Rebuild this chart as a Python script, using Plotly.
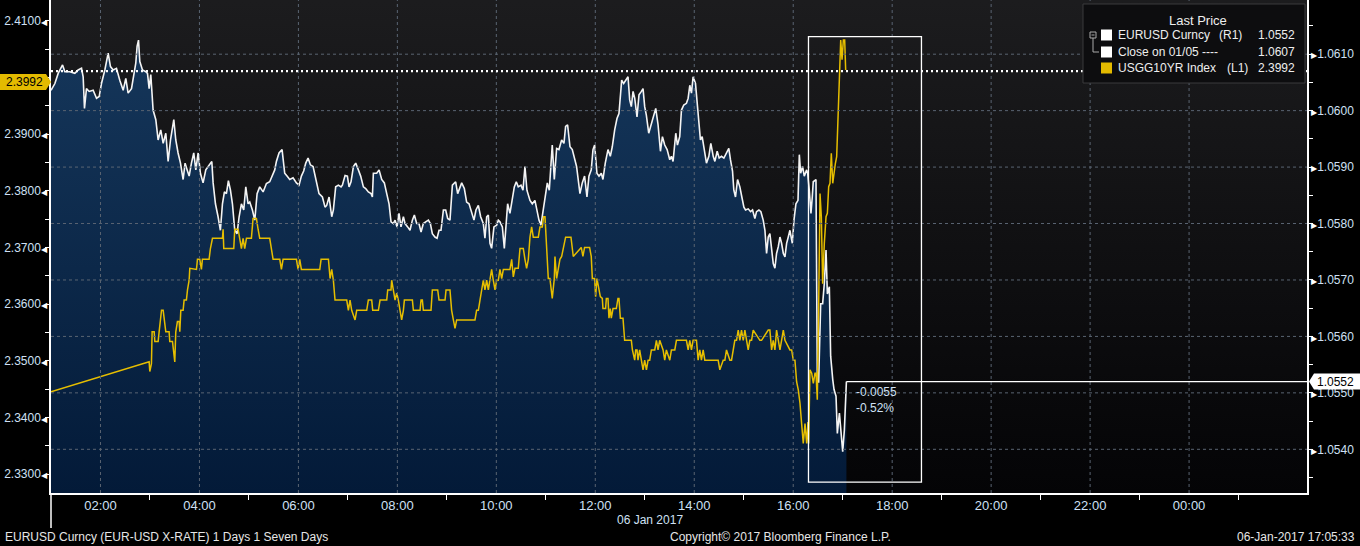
import plotly.graph_objects as go
import pandas as pd

# ---------------- data ----------------
# minutes after 00:00 on 06 Jan 2017
eur_minutes = [60.0, 64.7, 68.7, 74.0, 76.8, 82.8, 88.9, 92.9, 97.0, 99.0, 100.6, 103.0, 106.3, 111.1, 115.2, 118.4,
               121.2, 125.3, 129.3, 132.1, 135.4, 139.4, 143.4, 147.5, 150.7, 153.5, 157.6, 160.4, 162.8, 164.4, 166.1,
               167.7, 170.9, 175.0, 177.0, 179.0, 181.0, 183.8, 187.1, 189.9, 193.1, 196.0, 199.2, 202.0, 204.9, 208.9,
               211.3, 214.1, 217.0, 220.2, 222.6, 225.1, 227.5, 230.3, 233.1, 235.6, 238.4, 241.2, 244.4, 247.7, 250.5,
               252.5, 255.0, 256.6, 259.4, 262.6, 265.4, 267.9, 270.3, 272.7, 275.1, 277.6, 280.0, 282.8, 285.6, 288.1,
               290.9, 293.7, 296.2, 299.0, 301.0, 304.2, 307.1, 309.9, 313.1, 317.2, 321.2, 325.2, 328.5, 331.3, 333.3,
               336.5, 340.2, 343.4, 346.2, 349.5, 353.5, 357.6, 360.8, 363.6, 366.4, 368.9, 371.7, 374.5, 377.8, 381.8,
               385.0, 389.1, 392.3, 394.3, 397.2, 400.4, 402.4, 405.2, 408.5, 411.7, 413.3, 416.6, 419.4, 421.4, 423.8,
               426.7, 429.5, 432.7, 435.5, 438.8, 441.6, 444.8, 448.1, 449.7, 450.9, 454.9, 457.8, 461.0, 464.2, 467.1,
               469.9, 472.3, 475.1, 477.2, 479.6, 482.0, 484.4, 487.3, 489.3, 492.5, 495.3, 498.2, 500.6, 503.4, 506.2,
               508.7, 511.5, 514.3, 517.6, 520.0, 522.4, 525.6, 528.1, 530.5, 532.9, 535.8, 538.6, 541.0, 543.8, 546.7,
               549.1, 550.7, 553.1, 555.9, 558.0, 561.2, 564.0, 566.9, 570.1, 572.9, 575.3, 578.2, 581.0, 584.2, 586.2,
               588.3, 590.3, 592.3, 594.3, 597.1, 600.4, 602.4, 604.4, 607.3, 609.7, 611.3, 613.7, 616.5, 619.4, 621.8,
               624.2, 626.6, 629.9, 632.3, 634.7, 637.1, 640.8, 643.6, 646.8, 649.3, 651.7, 654.1, 656.9, 659.0, 661.8,
               664.2, 666.2, 667.8, 670.3, 673.1, 675.9, 679.2, 682.0, 684.0, 686.4, 689.3, 692.1, 694.5, 697.3, 701.4,
               704.2, 707.0, 709.9, 712.3, 715.1, 717.2, 719.2, 722.0, 724.5, 727.3, 729.3, 732.1, 735.4, 738.2, 740.6,
               743.5, 746.3, 748.7, 750.4, 752.0, 754.4, 756.8, 759.7, 761.7, 763.7, 765.8, 767.8, 770.6, 773.0, 775.9,
               777.9, 779.9, 781.9, 784.8, 787.2, 790.0, 793.3, 796.1, 799.0, 801.4, 804.2, 807.1, 810.3, 812.3, 814.3,
               817.6, 819.6, 822.4, 824.5, 827.3, 830.5, 832.6, 834.6, 836.6, 838.6, 841.5, 843.5, 845.5, 847.5, 849.6,
               851.6, 854.8, 857.7, 860.1, 863.0, 865.0, 867.8, 870.2, 873.0, 875.9, 879.1, 881.9, 883.9, 886.4, 888.0,
               890.0, 892.5, 895.3, 897.7, 900.2, 902.2, 905.4, 908.3, 910.7, 913.5, 915.5, 918.4, 920.8, 923.6, 925.7,
               927.7, 929.7, 931.7, 933.8, 935.8, 937.8, 939.8, 941.9, 943.9, 945.9, 948.0, 950.0, 952.0, 954.0, 956.0,
               958.9, 960.9, 963.3, 965.8, 967.4, 969.0, 971.4, 973.4, 976.3, 977.5, 979.5, 981.5, 983.1, 984.3, 987.6,
               989.2, 990.8, 993.3, 995.7, 997.7, 999.8, 1001.4, 1003.8, 1005.4, 1007.9, 1009.5, 1011.9, 1013.5, 1016.0,
               1018.0, 1020.0, 1022.0, 1024.5]
eur_values = [1.06036, 1.06048, 1.06066, 1.06081, 1.06069, 1.06069, 1.06066, 1.06072, 1.06075, 1.06060, 1.06004, 1.06039,
              1.06034, 1.06036, 1.06022, 1.06025, 1.06048, 1.06072, 1.06102, 1.06078, 1.06072, 1.06075, 1.06054, 1.06036,
              1.06057, 1.06031, 1.06039, 1.06066, 1.06084, 1.06114, 1.06125, 1.06087, 1.06072, 1.06069, 1.06066, 1.06039,
              1.06064, 1.06001, 1.05984, 1.05948, 1.05966, 1.05942, 1.05960, 1.05910, 1.05948, 1.05984, 1.05948, 1.05925,
              1.05907, 1.05878, 1.05907, 1.05895, 1.05884, 1.05907, 1.05925, 1.05895, 1.05925, 1.05889, 1.05872, 1.05895,
              1.05901, 1.05907, 1.05910, 1.05872, 1.05835, 1.05812, 1.05788, 1.05835, 1.05856, 1.05853, 1.05876, 1.05859,
              1.05835, 1.05788, 1.05782, 1.05812, 1.05835, 1.05824, 1.05865, 1.05835, 1.05838, 1.05824, 1.05806, 1.05853,
              1.05865, 1.05856, 1.05871, 1.05874, 1.05885, 1.05895, 1.05910, 1.05925, 1.05931, 1.05889, 1.05884, 1.05878,
              1.05881, 1.05872, 1.05868, 1.05884, 1.05893, 1.05907, 1.05916, 1.05904, 1.05901, 1.05872, 1.05853, 1.05847,
              1.05829, 1.05832, 1.05847, 1.05812, 1.05824, 1.05865, 1.05868, 1.05865, 1.05868, 1.05885, 1.05884, 1.05865,
              1.05874, 1.05901, 1.05907, 1.05895, 1.05884, 1.05865, 1.05862, 1.05856, 1.05853, 1.05847, 1.05889, 1.05889,
              1.05895, 1.05878, 1.05872, 1.05853, 1.05835, 1.05803, 1.05800, 1.05806, 1.05794, 1.05818, 1.05794, 1.05812,
              1.05800, 1.05794, 1.05788, 1.05806, 1.05815, 1.05800, 1.05800, 1.05785, 1.05800, 1.05803, 1.05806, 1.05800,
              1.05782, 1.05776, 1.05774, 1.05788, 1.05788, 1.05824, 1.05824, 1.05809, 1.05806, 1.05868, 1.05872, 1.05874,
              1.05853, 1.05865, 1.05872, 1.05862, 1.05838, 1.05835, 1.05821, 1.05806, 1.05824, 1.05832, 1.05812, 1.05800,
              1.05774, 1.05812, 1.05815, 1.05765, 1.05756, 1.05794, 1.05797, 1.05806, 1.05803, 1.05794, 1.05756, 1.05788,
              1.05835, 1.05818, 1.05841, 1.05865, 1.05874, 1.05865, 1.05868, 1.05859, 1.05901, 1.05859, 1.05841, 1.05835,
              1.05841, 1.05824, 1.05806, 1.05797, 1.05824, 1.05847, 1.05872, 1.05859, 1.05916, 1.05939, 1.05878, 1.05933,
              1.05931, 1.05948, 1.05942, 1.05972, 1.05975, 1.05936, 1.05931, 1.05916, 1.05901, 1.05853, 1.05872, 1.05884,
              1.05847, 1.05884, 1.05895, 1.05931, 1.05939, 1.05889, 1.05884, 1.05889, 1.05878, 1.05907, 1.05931, 1.05919,
              1.05936, 1.05966, 1.05986, 1.05995, 1.06036, 1.06054, 1.06048, 1.06054, 1.06060, 1.06019, 1.06007, 1.06034,
              1.06022, 1.05989, 1.06028, 1.06034, 1.06039, 1.06007, 1.05992, 1.05960, 1.05972, 1.05986, 1.06004, 1.05975,
              1.05928, 1.05954, 1.05939, 1.05931, 1.05913, 1.05919, 1.05910, 1.05960, 1.05939, 1.05954, 1.06001, 1.06010,
              1.06013, 1.06022, 1.06045, 1.06031, 1.06060, 1.06048, 1.06016, 1.05986, 1.05948, 1.05954, 1.05933, 1.05907,
              1.05919, 1.05942, 1.05919, 1.05910, 1.05928, 1.05916, 1.05919, 1.05916, 1.05925, 1.05933, 1.05913, 1.05893,
              1.05859, 1.05847, 1.05878, 1.05865, 1.05847, 1.05829, 1.05824, 1.05826, 1.05821, 1.05824, 1.05809, 1.05821,
              1.05824, 1.05821, 1.05806, 1.05788, 1.05747, 1.05776, 1.05782, 1.05753, 1.05729, 1.05721, 1.05747, 1.05759,
              1.05776, 1.05765, 1.05747, 1.05741, 1.05765, 1.05776, 1.05788, 1.05765, 1.05806, 1.05835, 1.05841, 1.05922,
              1.05889, 1.05901, 1.05884, 1.05895, 1.05889, 1.05859, 1.05818, 1.05847, 1.05874, 1.05878, 1.05529, 1.05518,
              1.05658, 1.05658, 1.05694, 1.05753, 1.05675, 1.05688, 1.05565, 1.05524, 1.05506, 1.05494, 1.05428, 1.05464,
              1.05434, 1.05396, 1.05434, 1.05520]

ust_minutes = [60.0, 179.0, 179.8, 181.8, 182.6, 185.1, 185.9, 189.9, 191.1, 192.7, 194.0, 196.0, 197.2, 199.2, 203.2,
               204.0, 207.3, 210.1, 211.3, 213.3, 215.4, 216.2, 217.4, 220.2, 221.4, 224.2, 225.5, 227.5, 228.3, 236.4,
               237.6, 240.4, 242.4, 243.6, 251.7, 253.3, 255.8, 267.9, 268.7, 269.5, 281.6, 282.8, 286.9, 288.9, 290.9,
               292.9, 294.9, 297.0, 303.0, 305.0, 309.1, 311.1, 313.1, 325.2, 327.3, 329.3, 337.4, 339.4, 341.4, 357.6,
               359.6, 361.6, 363.6, 385.9, 387.5, 396.4, 398.4, 400.4, 402.4, 404.4, 418.6, 420.6, 422.6, 424.6, 428.7,
               430.7, 442.8, 444.8, 448.9, 450.1, 457.0, 459.0, 467.1, 468.3, 472.3, 473.1, 475.1, 477.2, 479.2, 481.2,
               483.2, 485.2, 487.3, 488.5, 498.2, 499.4, 507.5, 508.7, 510.3, 511.5, 520.8, 522.4, 528.9, 530.5, 537.8,
               539.0, 543.8, 545.8, 547.9, 549.9, 551.9, 574.1, 576.1, 578.2, 580.2, 582.2, 584.2, 586.2, 588.3, 590.3,
               592.3, 594.3, 596.3, 598.4, 600.4, 602.4, 604.4, 606.5, 608.5, 616.5, 618.6, 620.6, 622.6, 626.6, 628.7,
               632.7, 634.7, 636.7, 638.8, 640.8, 642.8, 644.8, 650.9, 652.9, 655.7, 657.3, 659.0, 661.0, 663.0, 665.0,
               667.8, 670.3, 671.1, 673.1, 675.1, 677.1, 679.2, 681.2, 684.0, 690.5, 693.3, 703.0, 705.0, 707.0, 713.1,
               715.1, 716.4, 719.2, 720.4, 722.0, 724.1, 726.1, 728.5, 729.3, 732.5, 733.4, 735.4, 736.6, 738.2, 739.4,
               741.5, 745.5, 747.5, 748.7, 750.4, 753.6, 755.6, 763.7, 765.0, 767.8, 769.0, 770.6, 771.8, 773.8, 775.9,
               777.9, 779.9, 782.0, 784.0, 786.0, 788.0, 792.1, 794.1, 796.1, 798.1, 802.2, 804.2, 806.2, 810.3, 812.3,
               816.4, 818.4, 830.5, 832.6, 834.6, 836.6, 838.6, 842.7, 844.7, 846.7, 848.7, 850.8, 852.8, 867.0, 869.0,
               871.0, 875.1, 877.1, 879.1, 883.2, 885.2, 889.2, 891.3, 893.3, 895.3, 897.3, 899.4, 901.4, 903.4, 905.4,
               907.4, 909.5, 911.5, 919.6, 921.6, 929.7, 931.7, 933.8, 935.8, 937.8, 939.8, 941.9, 943.9, 945.9, 948.0,
               950.0, 956.0, 958.1, 960.1, 962.1, 964.1, 966.2, 968.2, 970.2, 972.2, 974.3, 976.3, 977.9, 978.7, 980.3,
               982.4, 984.4, 986.4, 987.6, 989.2, 990.9, 992.5, 994.1, 995.7, 997.7, 999.8, 1001.4, 1003.0, 1004.6,
               1006.2, 1007.9, 1009.5, 1011.1, 1012.7, 1014.3, 1016.0, 1017.6, 1019.2, 1020.8, 1022.4, 1023.6]
ust_values = [2.3445, 2.3498, 2.3481, 2.3495, 2.3551, 2.3551, 2.3534, 2.3534, 2.3551, 2.3572, 2.3589, 2.3589, 2.3572,
              2.3551, 2.3551, 2.3534, 2.3534, 2.3498, 2.3551, 2.3569, 2.3569, 2.3551, 2.3589, 2.3589, 2.3607, 2.3607,
              2.3625, 2.3642, 2.3663, 2.3661, 2.3679, 2.3679, 2.3661, 2.3679, 2.3679, 2.3698, 2.3716, 2.3716, 2.3732,
              2.3698, 2.3698, 2.3732, 2.3732, 2.3716, 2.3698, 2.3716, 2.3698, 2.3716, 2.3716, 2.3751, 2.3751, 2.3732,
              2.3716, 2.3716, 2.3698, 2.3679, 2.3679, 2.3661, 2.3679, 2.3679, 2.3661, 2.3679, 2.3661, 2.3661, 2.3679,
              2.3679, 2.3645, 2.3661, 2.3642, 2.3607, 2.3607, 2.3589, 2.3607, 2.3589, 2.3572, 2.3589, 2.3589, 2.3607,
              2.3607, 2.3589, 2.3589, 2.3607, 2.3607, 2.3625, 2.3625, 2.3642, 2.3625, 2.3607, 2.3619, 2.3607, 2.3589,
              2.3572, 2.3589, 2.3607, 2.3607, 2.3589, 2.3589, 2.3607, 2.3607, 2.3589, 2.3589, 2.3625, 2.3625, 2.3607,
              2.3607, 2.3625, 2.3625, 2.3589, 2.3572, 2.3557, 2.3572, 2.3572, 2.3589, 2.3589, 2.3607, 2.3625, 2.3642,
              2.3625, 2.3642, 2.3625, 2.3642, 2.3661, 2.3642, 2.3625, 2.3642, 2.3642, 2.3661, 2.3645, 2.3661, 2.3661,
              2.3679, 2.3648, 2.3663, 2.3663, 2.3698, 2.3698, 2.3679, 2.3663, 2.3679, 2.3718, 2.3736, 2.3718, 2.3718,
              2.3736, 2.3736, 2.3754, 2.3754, 2.3684, 2.3645, 2.3645, 2.3610, 2.3645, 2.3684, 2.3645, 2.3663, 2.3679,
              2.3684, 2.3698, 2.3718, 2.3718, 2.3684, 2.3700, 2.3684, 2.3700, 2.3700, 2.3684, 2.3645, 2.3645, 2.3613,
              2.3645, 2.3631, 2.3613, 2.3610, 2.3592, 2.3592, 2.3610, 2.3610, 2.3575, 2.3592, 2.3575, 2.3592, 2.3592,
              2.3610, 2.3610, 2.3575, 2.3575, 2.3536, 2.3536, 2.3519, 2.3501, 2.3519, 2.3519, 2.3501, 2.3519, 2.3501,
              2.3484, 2.3501, 2.3484, 2.3501, 2.3501, 2.3519, 2.3519, 2.3536, 2.3519, 2.3536, 2.3519, 2.3501, 2.3519,
              2.3501, 2.3519, 2.3519, 2.3536, 2.3536, 2.3519, 2.3536, 2.3519, 2.3536, 2.3536, 2.3501, 2.3519, 2.3501,
              2.3519, 2.3501, 2.3501, 2.3501, 2.3484, 2.3501, 2.3501, 2.3519, 2.3501, 2.3501, 2.3536, 2.3536, 2.3554,
              2.3536, 2.3554, 2.3536, 2.3554, 2.3536, 2.3519, 2.3536, 2.3536, 2.3554, 2.3536, 2.3536, 2.3554, 2.3554,
              2.3519, 2.3536, 2.3519, 2.3554, 2.3536, 2.3519, 2.3536, 2.3554, 2.3536, 2.3519, 2.3519, 2.3501, 2.3501,
              2.3463, 2.3448, 2.3425, 2.3389, 2.3354, 2.3389, 2.3354, 2.3392, 2.3354, 2.3484, 2.3478, 2.3460, 2.3478,
              2.3478, 2.3431, 2.3601, 2.3795, 2.3754, 2.3636, 2.3707, 2.3754, 2.3760, 2.3807, 2.3813, 2.3866, 2.3813,
              2.3836, 2.3848, 2.3860, 2.3942, 2.4025, 2.4066, 2.4031, 2.4066, 2.4066, 2.4013, 2.3992]

close_prev = 1.0607                      # Close on 01/05
x_tick_hours = [2, 4, 6, 8, 10, 12, 14, 16, 18, 20, 22, 24]
x_tick_labels = ["02:00", "04:00", "06:00", "08:00", "10:00", "12:00", "14:00",
                 "16:00", "18:00", "20:00", "22:00", "00:00"]
x_minor_hours = [3, 5, 7, 9, 11, 13, 15, 17, 19, 21, 23, 25]
left_ticks = [2.33, 2.34, 2.35, 2.36, 2.37, 2.38, 2.39, 2.41]
right_ticks = [1.054, 1.055, 1.056, 1.057, 1.058, 1.059, 1.060, 1.061]
box_minutes = [978.5, 1115.5]           # highlighted window (time)
box_values = [1.05342, 1.06131]          # highlighted window (EURUSD)

# ---------------- helpers ----------------
base = pd.Timestamp("2017-01-06")


def ts(m):
    return base + pd.to_timedelta(m, unit="m")


eur_x = [ts(m) for m in eur_minutes]
ust_x = [ts(m) for m in ust_minutes]
x_range = [ts(60), ts(1583)]
eur_range = [1.053226, 1.06196]
ust_range = [2.32666, 2.41365]

W, H = 1360, 546
ML, MR, MT, MB = 51, 53, 0, 53
PW, PH = W - ML - MR, H - MT - MB
FONT = "Liberation Sans, Arial, sans-serif"
TICKC = "#cfe0f5"


def pxx(x):
    return (x - ML) / PW


def pyy(y):
    return (H - MB - y) / PH


def eur_paper(v):
    return (v - eur_range[0]) / (eur_range[1] - eur_range[0])


def ust_paper(v):
    return (v - ust_range[0]) / (ust_range[1] - ust_range[0])


last_eur = eur_values[-1]
last_ust = ust_values[-1]
chg = last_eur - close_prev
pct = chg / close_prev * 100

fig = go.Figure()

# plot-area background gradient
fig.add_trace(go.Scatter(
    x=[x_range[0], x_range[1], x_range[1], x_range[0]],
    y=[eur_range[0], eur_range[0], eur_range[1], eur_range[1]],
    mode="lines", line=dict(width=0), fill="toself",
    fillgradient=dict(type="vertical", colorscale=[[0, "#040406"], [1, "#1c1c1e"]],
                      start=eur_range[0], stop=eur_range[1]),
    hoverinfo="skip", showlegend=False, yaxis="y"))

# EURUSD area
fig.add_trace(go.Scatter(
    x=eur_x, y=eur_values, mode="lines", line=dict(color="#f4f4f4", width=1.6),
    fill="tozeroy",
    fillgradient=dict(type="vertical", colorscale=[[0, "#031a38"], [1, "#15365a"]],
                      start=eur_range[0], stop=1.0612),
    hoverinfo="skip", showlegend=False, yaxis="y"))

# USGG10YR line
fig.add_trace(go.Scatter(
    x=ust_x, y=ust_values, mode="lines", line=dict(color="#e6be00", width=1.5),
    hoverinfo="skip", showlegend=False, yaxis="y2"))

shapes = []
grid = dict(color="#5a6472", width=1, dash="3px,3px")
for h in x_tick_hours:
    shapes.append(dict(type="line", xref="x", yref="paper", x0=ts(h * 60), x1=ts(h * 60),
                       y0=0, y1=1, line=grid, layer="above"))
for v in right_ticks:
    shapes.append(dict(type="line", xref="paper", yref="y", x0=0, x1=1, y0=v, y1=v,
                       line=grid, layer="above"))

# previous close dotted line
shapes.append(dict(type="line", xref="paper", yref="y", x0=0, x1=1, y0=close_prev, y1=close_prev,
                   line=dict(color="#ffffff", width=2.2, dash="2px,3px"), layer="above"))
# highlighted window
shapes.append(dict(type="rect", xref="x", yref="y", x0=ts(box_minutes[0]), x1=ts(box_minutes[1]),
                   y0=box_values[0], y1=box_values[1], line=dict(color="#ffffff", width=1.3),
                   fillcolor="rgba(0,0,0,0)", layer="above"))
# last price line
shapes.append(dict(type="line", xref="x", yref="y", x0=eur_x[-1], x1=x_range[1],
                   y0=last_eur, y1=last_eur, line=dict(color="#ffffff", width=1.2), layer="above"))
# left axis extension below the x axis
shapes.append(dict(type="line", xref="paper", yref="paper", x0=0, x1=0, y0=pyy(528), y1=0,
                   line=dict(color="#ffffff", width=1.5), layer="above"))

# yellow price tag (left)
shapes.append(dict(type="path", xref="paper", yref="paper", xsizemode="pixel", ysizemode="pixel",
                   xanchor=0, yanchor=ust_paper(last_ust),
                   path="M -51,-8 L -5,-8 L 0,0 L -5,8 L -51,8 Z",
                   fillcolor="#e3ba00", line=dict(width=0), layer="above"))
# white price tag (right)
shapes.append(dict(type="path", xref="paper", yref="paper", xsizemode="pixel", ysizemode="pixel",
                   xanchor=1, yanchor=eur_paper(last_eur),
                   path="M 2,0 L 7,-8 L 53,-8 L 53,8 L 7,8 Z",
                   fillcolor="#ffffff", line=dict(width=0), layer="above"))

# legend box
shapes.append(dict(type="rect", xref="paper", yref="paper", x0=pxx(1083), x1=pxx(1305),
                   y0=pyy(83), y1=pyy(4), fillcolor="#0d0d0f", line=dict(color="#3a3a3c", width=1),
                   layer="above"))
sw_rows = [35, 52, 68]
sw_cols = ["#ffffff", "#ffffff", "#e3ba00"]
for yy, c in zip(sw_rows, sw_cols):
    shapes.append(dict(type="rect", xref="paper", yref="paper", x0=pxx(1101), x1=pxx(1112),
                       y0=pyy(yy + 5.5), y1=pyy(yy - 5.5), fillcolor=c, line=dict(width=0), layer="above"))
# tree icon
shapes.append(dict(type="rect", xref="paper", yref="paper", x0=pxx(1090), x1=pxx(1096),
                   y0=pyy(38), y1=pyy(32), fillcolor="#0d0d0f", line=dict(color="#aaaaaa", width=1),
                   layer="above"))
shapes.append(dict(type="line", xref="paper", yref="paper", x0=pxx(1091.5), x1=pxx(1094.5),
                   y0=pyy(35), y1=pyy(35), line=dict(color="#aaaaaa", width=1), layer="above"))
shapes.append(dict(type="path", xref="paper", yref="paper",
                   path=f"M {pxx(1093)},{pyy(38)} L {pxx(1093)},{pyy(52)} L {pxx(1099)},{pyy(52)}",
                   line=dict(color="#aaaaaa", width=1), layer="above"))

ann = []


def text(x, y, s, anchor="left", size=12, color="#eeeeee", **kw):
    ann.append(dict(xref="paper", yref="paper", x=pxx(x), y=pyy(y), text=s, showarrow=False,
                    xanchor=anchor, yanchor="middle", font=dict(family=FONT, size=size, color=color), **kw))


text(1198, 20, "Last Price", anchor="center", size=13)
text(1116, 35, "EURUSD Curncy")
text(1217, 35, "(R1)")
text(1297, 35, f"{last_eur:.4f}", anchor="right")
text(1116, 52, "Close on 01/05 ----")
text(1297, 52, f"{close_prev:.4f}", anchor="right")
text(1116, 68, "USGG10YR Index")
text(1225, 68, "(L1)")
text(1297, 68, f"{last_ust:.4f}", anchor="right")

# price tag texts
ann.append(dict(xref="paper", yref="paper", x=0, xanchor="right", xshift=-6,
                y=ust_paper(last_ust), yanchor="middle", text=f"{last_ust:.4f}", showarrow=False,
                font=dict(family=FONT, size=12, color="#000000")))
ann.append(dict(xref="paper", yref="paper", x=1, xanchor="left", xshift=8,
                y=eur_paper(last_eur), yanchor="middle", text=f"{last_eur:.4f}", showarrow=False,
                font=dict(family=FONT, size=12, color="#000000")))
# change annotation
ann.append(dict(xref="x", yref="y", x=eur_x[-1], xanchor="left", xshift=8,
                y=last_eur, yanchor="top", yshift=-1, align="left",
                text=f"{chg:+.4f}<br>{pct:+.2f}%", showarrow=False,
                font=dict(family=FONT, size=12, color=TICKC)))

text(650, 520, "06 Jan 2017", anchor="center", size=12, color=TICKC)
text(3, 537, "EURUSD Curncy (EUR-USD X-RATE) 1 Days 1 Seven Days", size=12, color="#e6e6e6")
text(780, 537, "Copyright\u00a9 2017 Bloomberg Finance L.P.", anchor="center", size=12, color="#e6e6e6")
text(1357, 537, "06-Jan-2017 17:05:33", anchor="right", size=12, color="#e6e6e6")

tri_l = "<span style='font-size:8px;color:#ffffff'>\u25c0</span>"
tri_r = "<span style='font-size:8px;color:#ffffff'>\u25b6</span>"

fig.update_layout(
    width=W, height=H,
    margin=dict(l=ML, r=MR, t=MT, b=MB, pad=0),
    paper_bgcolor="#000000", plot_bgcolor="#111113",
    showlegend=False, hovermode=False,
    font=dict(family=FONT, size=12, color=TICKC),
    xaxis=dict(type="date", range=x_range, tickmode="array",
               tickvals=[ts(h * 60) for h in x_tick_hours], ticktext=x_tick_labels,
               ticks="", showgrid=False, zeroline=False,
               showline=True, linecolor="#ffffff", linewidth=1.5,
               tickfont=dict(family=FONT, size=13, color=TICKC),
               minor=dict(tickvals=[ts(h * 60) for h in x_minor_hours], ticks="outside",
                          ticklen=5, tickcolor="#ffffff", tickwidth=1.2, showgrid=False)),
    yaxis=dict(range=eur_range, side="right", tickmode="array", tickvals=right_ticks,
               ticktext=[tri_r + f"{v:.4f}" for v in right_ticks],
               ticks="", showgrid=False, zeroline=False,
               showline=True, linecolor="#ffffff", linewidth=1.5,
               tickfont=dict(family=FONT, size=12, color=TICKC),
               minor=dict(tick0=0, dtick=0.0005, ticks="outside", ticklen=4,
                          tickcolor="#ffffff", tickwidth=1.2, showgrid=False)),
    yaxis2=dict(range=ust_range, overlaying="y", side="left", anchor="x", tickmode="array",
                tickvals=left_ticks, ticktext=[f"{v:.4f}" + tri_l for v in left_ticks],
                ticks="", showgrid=False, zeroline=False,
                showline=True, linecolor="#ffffff", linewidth=1.5,
                tickfont=dict(family=FONT, size=12, color=TICKC),
                minor=dict(tick0=0, dtick=0.005, ticks="outside", ticklen=4,
                           tickcolor="#ffffff", tickwidth=1.2, showgrid=False)),
    shapes=shapes, annotations=ann,
)

fig.write_html("out.html", config={"displayModeBar": False},
               post_script="document.body.style.margin='0';document.body.style.padding='0';"
                           "document.body.style.background='#000';")
